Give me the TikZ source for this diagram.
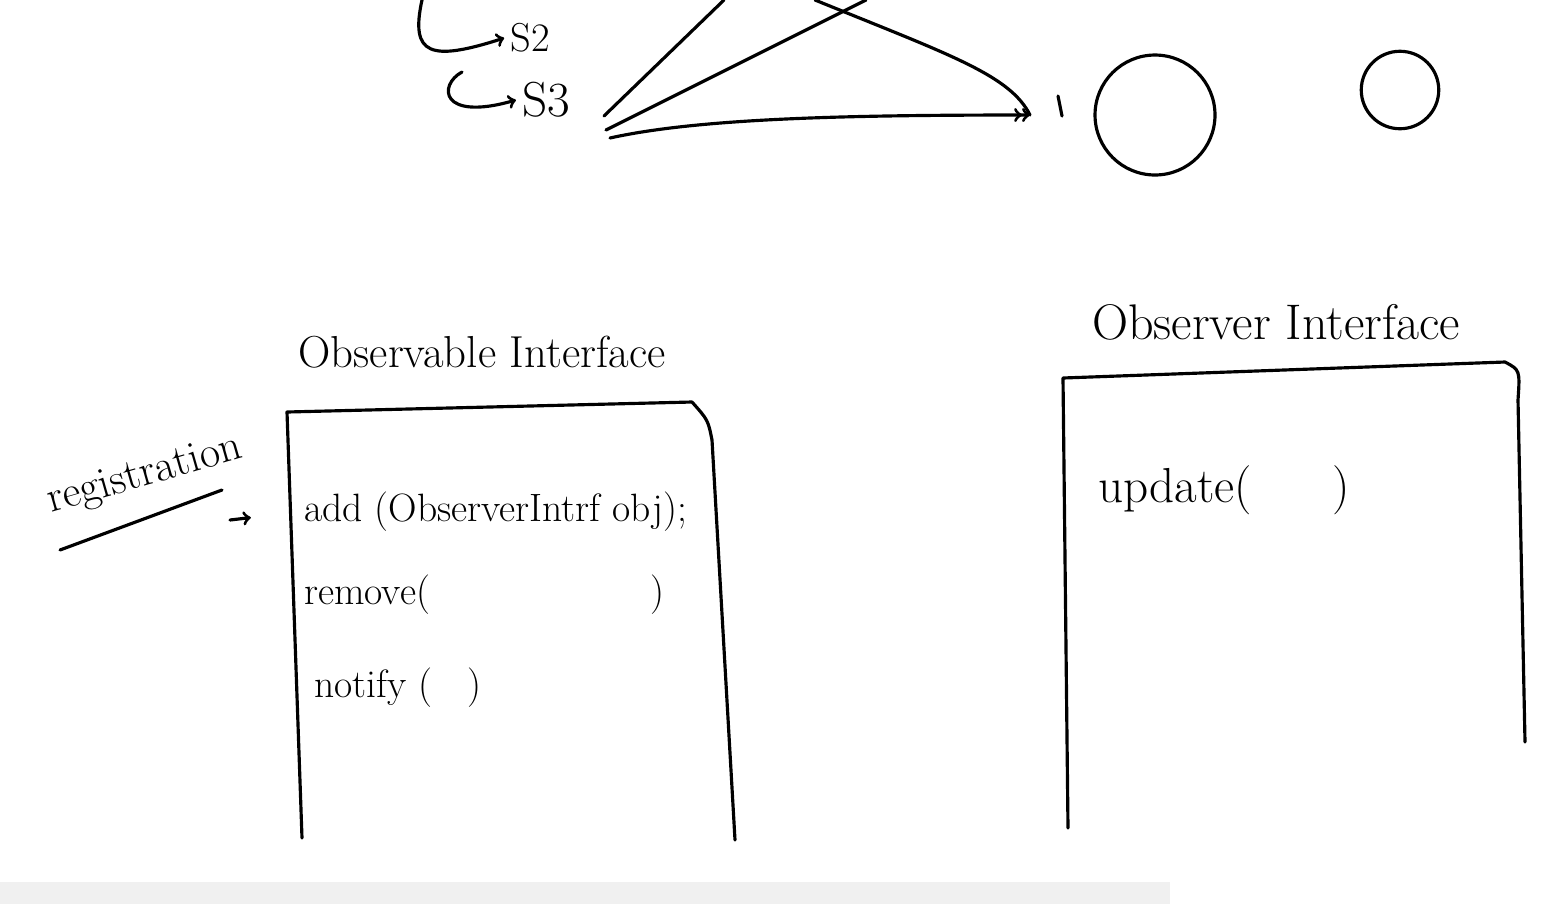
\documentclass[tikz,border=0pt]{standalone}
\usepackage{fontspec}
\usetikzlibrary{positioning}
\tikzset{
  pen/.style={line width=1.8pt, line cap=round, line join=round},
  title/.style={font=\fontsize{25.5}{29}\selectfont},
  method/.style={font=\fontsize{22.5}{26}\selectfont, anchor=west},
}
\begin{document}
\begin{tikzpicture}[x=0.02cm,y=-0.02cm]
\useasboundingbox (0,0) rectangle (1548,904);
\fill[black!6] (0,882) rectangle (1170,904);

% subjects at the top
\node[font=\fontsize{23}{26}\selectfont] (s2) at (530,38) {S2};
\node[font=\fontsize{28}{32}\selectfont] (s3) at (546,100) {S3};
\coordinate (h2) at (422,0);
\coordinate (h3) at (462,72);
\draw[pen,->] (h2) .. controls (410,55) and (430,62) .. (s2.west);
\draw[pen,->] (h3) .. controls (438,85) and (440,122) .. (s3.west);

% observers
\node[draw,pen,circle,minimum size=2.4cm] (o1) at (1155,115) {};
\node[draw,pen,circle,minimum size=1.55cm] (o2) at (1400,90) {};
\coordinate (tgt) at (1030,115);
\coordinate (a1) at (604,116);
\coordinate (a1end) at (724,0);
\coordinate (a2) at (606,130);
\coordinate (a2end) at (866,0);
\coordinate (c1) at (815,0);
\coordinate (b1) at (610,138);
\draw[pen] (a1) -- (a1end);
\draw[pen] (a2) -- (a2end);
\draw[pen] (c1) .. controls (950,55) and (1010,75) .. (tgt);
\draw[pen,->>] (b1) .. controls (700,118) and (850,115) .. (tgt);
\coordinate (t1) at (1058,96);
\coordinate (t2) at (1062,116);
\draw[pen] (t1) -- (t2);

% the two interfaces
\node[title] (obsif) at (482,352) {Observable Interface};
\node[title,font=\fontsize{28.5}{32}\selectfont] (obrif) at (1276,322) {Observer Interface};

\draw[pen] (302,838) -- (287,412) -- (692,402) .. controls (708,420) .. (712,440) -- (735,840);
\draw[pen] (1068,828) -- (1063,378) -- (1505,362) .. controls (1520,370) .. (1518,400) -- (1525,742);

\node[method] (add) at (298,512) {add (ObserverIntrf obj);};
\node[method] (rem) at (298,595) {remove(\hspace{4.4cm})};
\node[method] (ntf) at (308,688) {notify (\hspace{0.7cm})};
\node[method,font=\fontsize{28}{32}\selectfont] (upd) at (1092,490) {update(\hspace{1.6cm})};

% registration note
\node[font=\fontsize{25}{29}\selectfont,rotate=16] (reg) at (145,476) {registration};
\coordinate (u1) at (60,550);
\coordinate (u2) at (222,490);
\draw[pen] (u1) -- (u2);
\coordinate (regarr) at (230,520);
\draw[pen,->,shorten >=0.95cm] (regarr) -- (add.west);

\end{tikzpicture}
\end{document}
